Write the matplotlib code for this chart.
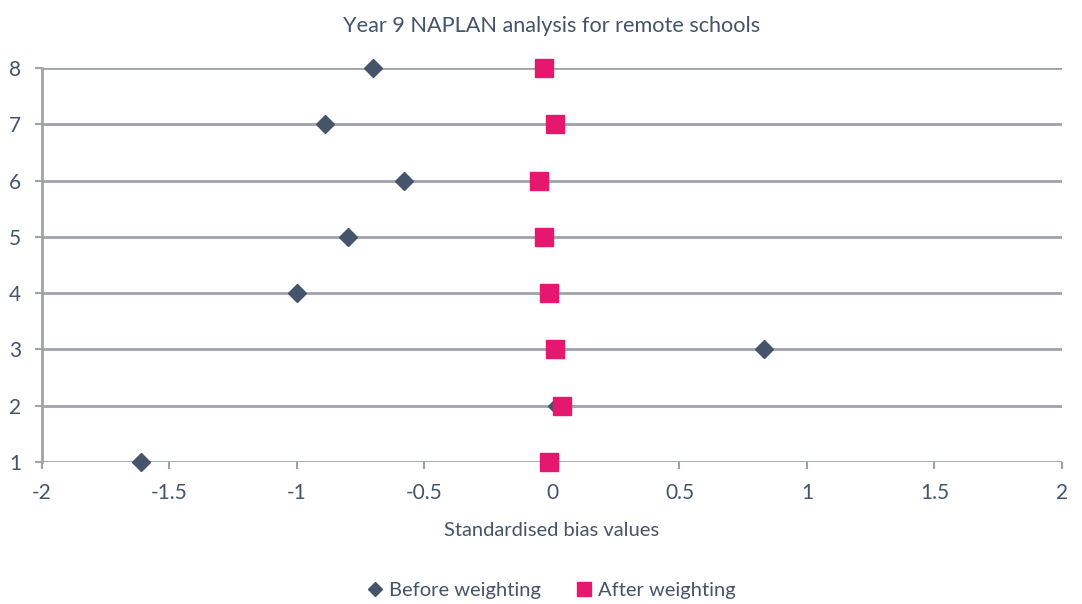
import matplotlib.pyplot as plt

plt.rcParams['font.family'] = ['Lato', 'DejaVu Sans']

# Standardised bias per covariate (1-8), before and after weighting
rank = [1, 2, 3, 4, 5, 6, 7, 8]
before_weighting = [-1.61, 0.02, 0.83, -1.00, -0.80, -0.58, -0.89, -0.70]
after_weighting = [-0.01, 0.04, 0.01, -0.01, -0.03, -0.05, 0.01, -0.03]

x_ticks = [-2, -1.5, -1, -0.5, 0, 0.5, 1, 1.5, 2]
x_labels = ['-2', '-1.5', '-1', '-0.5', '0', '0.5', '1', '1.5', '2']

text_col = '#44546a'
grid_col = '#9ea3aa'
navy = '#44546a'
pink = '#e5176e'

fig = plt.figure(figsize=(10.82, 6.04), dpi=100)
ax = fig.add_axes([0.0388, 0.2351, 0.9427, 0.6523])

ax.plot(before_weighting, rank, 'D', color=navy, markersize=9.5,
        linestyle='none', label='Before weighting', clip_on=False, zorder=3)
ax.plot(after_weighting, rank, 's', color=pink, markersize=12.5,
        linestyle='none', label='After weighting', clip_on=False, zorder=4)

ax.set_xlim(-2, 2)
ax.set_ylim(1, 8)
ax.set_xticks(x_ticks)
ax.set_xticklabels(x_labels)
ax.set_yticks(rank)

for y in rank:
    ax.axhline(y, color=grid_col, lw=2, zorder=1)

for side in ['top', 'right', 'bottom']:
    ax.spines[side].set_visible(False)
ax.spines['left'].set_color(grid_col)
ax.spines['left'].set_linewidth(2)

ax.tick_params(axis='x', direction='out', length=5, width=1.5, color=grid_col,
               labelsize=15, labelcolor=text_col, pad=10)
ax.tick_params(axis='y', direction='out', length=5, width=1.5, color=grid_col,
               labelsize=15, labelcolor=text_col, pad=10)

ax.set_title('Year 9 NAPLAN analysis for remote schools', fontsize=15.6,
             color=text_col, pad=26)
ax.set_xlabel('Standardised bias values', fontsize=14.5, color=text_col, labelpad=14)

fig.legend(loc='center', bbox_to_anchor=(0.51, 0.023), ncol=2, frameon=False,
           fontsize=14.5, labelcolor=text_col, handlelength=0.7, handletextpad=0.35,
           columnspacing=1.8, markerscale=0.75)

fig.savefig('out.png', dpi=100)
